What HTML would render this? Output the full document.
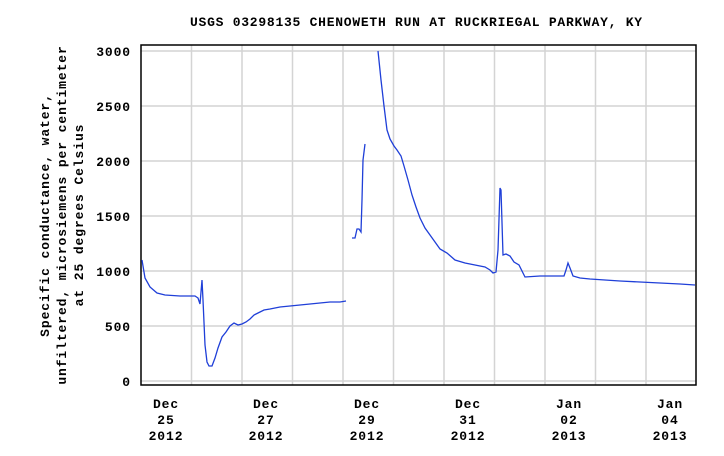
<!DOCTYPE html>
<html><head><style>
body{margin:0;background:#fff;}
svg text{font-family:"Liberation Mono","DejaVu Sans Mono",monospace;font-weight:bold;font-size:13px;letter-spacing:0.9px;fill:#000;}
</style></head><body>
<svg width="724" height="451" xmlns="http://www.w3.org/2000/svg">
<text x="190" y="26" textLength="453" lengthAdjust="spacing">USGS 03298135 CHENOWETH RUN AT RUCKRIEGAL PARKWAY, KY</text>
<g stroke="#d4d4d4" stroke-width="1.5">
<line x1="141" y1="326" x2="696" y2="326"/><line x1="141" y1="271" x2="696" y2="271"/>
<line x1="141" y1="216" x2="696" y2="216"/><line x1="141" y1="161" x2="696" y2="161"/>
<line x1="141" y1="106" x2="696" y2="106"/><line x1="141" y1="51" x2="696" y2="51"/>
<line x1="141" y1="381" x2="696" y2="381"/>
<line x1="191.5" y1="45" x2="191.5" y2="385"/><line x1="242" y1="45" x2="242" y2="385"/>
<line x1="292.5" y1="45" x2="292.5" y2="385"/><line x1="343" y1="45" x2="343" y2="385"/>
<line x1="393.5" y1="45" x2="393.5" y2="385"/><line x1="444" y1="45" x2="444" y2="385"/>
<line x1="494.5" y1="45" x2="494.5" y2="385"/><line x1="545" y1="45" x2="545" y2="385"/>
<line x1="595.5" y1="45" x2="595.5" y2="385"/><line x1="646" y1="45" x2="646" y2="385"/>
</g>
<rect x="141" y="45" width="555" height="340" fill="none" stroke="#000" stroke-width="1.5"/>
<g text-anchor="end">
<text x="131" y="386">0</text><text x="131" y="331">500</text><text x="131" y="276">1000</text>
<text x="131" y="221">1500</text><text x="131" y="166">2000</text><text x="131" y="111">2500</text><text x="131" y="56">3000</text>
</g>
<g text-anchor="middle">
<text x="166" y="408">Dec</text><text x="166" y="424">25</text><text x="166" y="440">2012</text>
<text x="266" y="408">Dec</text><text x="266" y="424">27</text><text x="266" y="440">2012</text>
<text x="367" y="408">Dec</text><text x="367" y="424">29</text><text x="367" y="440">2012</text>
<text x="468" y="408">Dec</text><text x="468" y="424">31</text><text x="468" y="440">2012</text>
<text x="569" y="408">Jan</text><text x="569" y="424">02</text><text x="569" y="440">2013</text>
<text x="670" y="408">Jan</text><text x="670" y="424">04</text><text x="670" y="440">2013</text>
</g>
<g transform="translate(49,215) rotate(-90)" text-anchor="middle">
<text x="0" y="0">Specific conductance, water,</text>
<text x="0" y="17">unfiltered, microsiemens per centimeter</text>
<text x="0" y="34">at 25 degrees Celsius</text>
</g>
<g fill="none" stroke="#1f3fd8" stroke-width="1.3">
<polyline points="142,260 145,278 150,287 157,293 165,295 180,296 195,296 198,298 200,304 202,280 203,300 205,345 207,362 209,366 212,366 215,358 218,348 222,337 226,332 230,326 234,323 238,325 242,324 246,322 250,319 254,315 258,313 264,310 270,309 280,307 290,306 300,305 310,304 320,303 330,302 340,302 346,301"/>
<polyline points="352,238 355,238 357,229 359,229 361,232 362,200 363,160 365,144"/>
<polyline points="378,51 381,80 384,106 387,130 390,139 394,146 397,150 401,156 404,166 408,180 412,195 416,207 420,218 425,228 430,235 435,242 440,249 447,253 455,260 465,263 475,265 485,267 490,270 493,273 496,272 498,250 500,188 501,190 503,255 506,254 510,256 514,262 519,265 525,277 540,276 564,276 566,270 568,263 570,268 573,276 580,278 590,279 605,280 620,281 640,282 660,283 680,284 695,285"/>
</g>
</svg>
</body></html>
